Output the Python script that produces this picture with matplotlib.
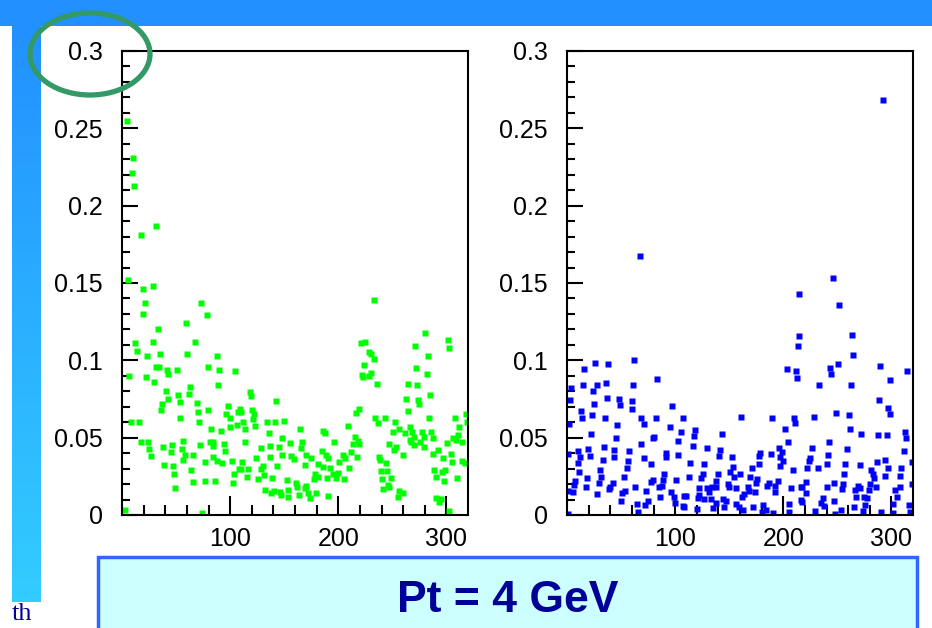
import numpy as np
import matplotlib
matplotlib.use('Agg')
from matplotlib import pyplot as plt
from matplotlib.patches import Rectangle, Ellipse
from matplotlib.colors import LinearSegmentedColormap
from matplotlib.ticker import FixedLocator, FuncFormatter

## scatter values (x, y)
green_pts = [
    (4.3, .255), (9.9, .231), (9, .221), (10.8, .213), (31.7, .187), (17.9, .181), (5.9, .152), (19, .146),
    (28.4, .148), (21.3, .137), (19.7, .130), (72.7, .137), (78.3, .129), (59.2, .124), (33, .120), (29, .112),
    (67.5, .112), (12, .111), (13.6, .106), (22.8, .103), (35.1, .104), (60.4, .104), (88.2, .103), (31.4, .096),
    (34.5, .096), (41.3, .094), (42.9, .091), (50.6, .0935), (79.8, .096), (90, .094), (104.8, .093), (6.8, .090),
    (22.2, .089), (29.6, .086), (62.9, .083), (88.8, .084), (40.4, .080), (52.1, .0775), (62.3, .078), (42.9, .075),
    (53.6, .073), (69, .0725), (36.7, .0716), (35.8, .068), (70, .0667), (79.2, .068), (98.3, .0703), (96.2, .0656),
    (99.9, .0624), (107.6, .0667), (106, .0585), (53.6, .0624), (8.3, .0602), (15.7, .0602), (70.9, .0602), (82, .0555),
    (91.2, .0544), (99.9, .057), (17.3, .0473), (24.4, .0473), (25.3, .0426), (26.8, .0383), (38.2, .0441), (45.9, .0452),
    (45, .0409), (56.7, .048), (55.2, .0424), (58.3, .0387), (56.7, .0355), (65.4, .0387), (72.1, .0452), (81.4, .0473),
    (84.5, .0473), (83.8, .0445), (94.3, .0458), (95.6, .0415), (84.5, .0376), (87.5, .0348), (92.5, .0333), (76.8, .0344),
    (101.4, .0348), (39.2, .0323), (46.9, .0316), (63.5, .029), (48.1, .0262), (103.6, .0262), (66, .0211), (76.8, .0219),
    (86.3, .0219), (102.3, .0204), (49, .0172), (2.5, .003), (74.3, .0015), (108.5, .030),
    (118.7, .0796), (119.6, .077), (142.7, .0735), (108.8, .0688), (109.8, .0667), (111.9, .0602), (120.2, .0677), (121.8, .065),
    (121.2, .062), (113.5, .0559), (122.7, .0576), (134.4, .0602), (141.2, .0602), (149.8, .0609), (135.7, .0533), (164.3, .0559),
    (185.9, .0544), (187.4, .0527), (209, .0576), (216.7, .0662), (114, .0473), (148.3, .0499), (155.7, .0467), (166.5, .0473),
    (196.1, .0473), (215.2, .0505), (128.9, .0434), (137.2, .0445), (145.2, .0437), (165.9, .0434), (213.6, .0462), (212.1, .0409),
    (185, .0415), (189, .0391), (190.5, .037), (136.6, .0376), (148.3, .0387), (156.6, .0383), (159.1, .0361), (170.5, .0387),
    (175.1, .037), (181.3, .0327), (185.9, .0312), (192.1, .0305), (200.4, .0344), (204.4, .0387), (206.6, .037), (124.3, .0366),
    (111, .0344), (130.4, .0318), (128.3, .0297), (143.7, .0316), (168.9, .0323), (110.4, .0297), (116.5, .0297), (115.9, .0247),
    (125.8, .0232), (131.3, .0258), (139.1, .0237), (152.9, .0226), (178.2, .0262), (181.3, .0247), (177.6, .0232), (189.9, .0237),
    (195.2, .0262), (198.2, .0241), (199.8, .0269), (205.3, .0232), (209.6, .0301), (161.2, .0204), (162.2, .0183), (168.9, .0172),
    (170.5, .0189), (132.6, .0161), (138.1, .014), (140.6, .0155), (145.8, .0151), (146.8, .0129), (153.5, .0161), (153.5, .0118),
    (163.7, .0129), (172, .014), (173.6, .0112), (179.7, .014), (190.5, .0123),
    (232.7, .139), (280.5, .1176), (221, .111), (225, .112), (301.2, .1133), (302.1, .108), (271, .1092), (228.1, .1054),
    (230.3, .1039), (233.4, .101), (282.7, .1026), (224.1, .0972), (222, .0908), (222.6, .0892), (228.1, .0897), (230.3, .092),
    (271.9, .095), (281.8, .091), (235.5, .0845), (264.2, .085), (272.8, .0843), (284.8, .0774), (262.6, .0753), (273.4, .0742),
    (275, .072), (218.9, .0688), (264.2, .0673), (318.1, .0656), (234.3, .0624), (236.4, .0596), (243.2, .0624), (252.8, .0602),
    (284.2, .0628), (307.9, .0624), (319.1, .0602), (256.5, .0559), (250.3, .0538), (262, .0527), (266.3, .057), (268.2, .0538),
    (277.4, .0538), (285.8, .0538), (312, .057), (310.4, .052), (266.3, .0484), (270.3, .0505), (279.6, .0505), (287.3, .0495),
    (305.8, .0499), (308.9, .0484), (314.4, .0473), (217.9, .048), (218.9, .0462), (275.9, .0473), (246.6, .0456), (267.3, .0473),
    (270.3, .0452), (279, .0441), (300.2, .0467), (253.4, .0441), (251.9, .0419), (291.9, .0419), (287.3, .0394), (304.3, .0394),
    (260.2, .0387), (217.3, .0372), (237.4, .0376), (238.6, .0355), (244.1, .0333), (297.2, .0366), (305.2, .0344), (314.4, .0348),
    (317.5, .0333), (239.5, .0284), (245.1, .0284), (288.8, .029), (295.9, .028), (299, .029), (240.4, .0232), (248.8, .0237),
    (290.4, .0243), (298.1, .0219), (309.5, .0241), (245.7, .0194), (247.2, .0183), (241.7, .0168), (255.9, .0155), (259.6, .014),
    (254.9, .0118), (290.4, .0108), (292.9, .0086), (295, .0101), (302.7, .0026),
]

blue_pts = [
    (292.6, .268), (67.1, .1675), (245.8, .153),
    (62.2, .1), (25.8, .0985), (37.5, .0978), (16, .0946), (82.8, .0877), (3.7, .0822), (15.1, .0843),
    (27.4, .0843), (35.7, .0856), (23.7, .0802), (60.6, .0839), (2.8, .0746), (25.2, .072), (37.2, .0759), (48, .0748),
    (49, .0714), (60.3, .0738), (59.7, .0688), (97.2, .0703), (12.9, .0673), (23.4, .0649), (14.2, .0624), (35.1, .0624),
    (68.9, .063), (71.1, .0591), (82.2, .0624), (107.4, .0624), (2.2, .0591), (45.8, .0585), (95.1, .057), (105.8, .0538),
    (22.2, .0523), (80.6, .0505), (79.7, .0495), (44.9, .0495), (102.8, .048), (34.2, .0441), (43.7, .0419), (68.3, .0462),
    (57.5, .0415), (9.8, .0415), (19.7, .0424), (1.2, .0394), (12, .0376), (21.2, .0381), (43.7, .0376), (56.6, .0351),
    (71.1, .0366), (91.1, .0398), (92, .0376), (102.8, .0387), (9.8, .0338), (32.9, .0355), (77.5, .0329), (11.1, .028),
    (30.5, .029), (55.1, .0301), (89.8, .0262), (7.4, .0219), (18.2, .0241), (31.4, .0243), (29.5, .0209), (52.9, .0243),
    (77.5, .0211), (79.1, .0226), (88.9, .0226), (100.6, .0226), (6.8, .0194), (17.5, .0183), (39.7, .0178), (42.2, .0204),
    (62.8, .0178), (73.5, .0155), (85.2, .0178), (88, .0189), (96, .0151), (0.6, .0155), (5.8, .0151), (28, .0133),
    (39.1, .0166), (53.5, .0155), (51.1, .014), (49.8, .0092), (85.8, .0118), (98.8, .0118), (74.5, .0092), (72, .0065),
    (64.3, .0071), (65.8, .0017), (99.7, .0075), (107.4, .006), (108.3, .0125), (0.6, .0004),
    (214.8, .143), (214.2, .116), (213.9, .1092), (203.1, .0942), (211.7, .0929), (212.3, .0888), (161, .0634), (189.3, .0624),
    (209.6, .0628), (210.5, .0596), (201.9, .0559), (118.8, .0548), (117.9, .051), (143.4, .0523), (204, .0473), (116.3, .0445),
    (129.3, .043), (141.6, .0419), (196.3, .043), (198.8, .0409), (178.5, .0404), (188.6, .0394), (140.9, .0381), (152.6, .0376),
    (177.9, .0383), (196.9, .0376), (199.4, .0348), (113.9, .0338), (127.1, .0327), (153.3, .0312), (177.9, .0327), (171.1, .0305),
    (196.9, .0316), (208.6, .029), (151.1, .028), (125.6, .0262), (139.4, .0262), (160, .0262), (112.6, .0247), (124, .0241),
    (154.8, .0243), (169.6, .0247), (175.4, .0232), (137.9, .0222), (186.5, .0204), (194.8, .0219), (216.3, .0178), (129.3, .0176),
    (134.2, .0183), (137.9, .0183), (148.6, .0198), (150.2, .0178), (167.1, .0183), (174.8, .0204), (184.9, .0189), (192.6, .0189),
    (207.1, .0172), (122.5, .0172), (131.1, .0151), (121.9, .0129), (121, .0108), (110.2, .0125), (126.5, .0103), (164, .0133),
    (168.6, .0155), (174.2, .0151), (192.6, .0151), (156.3, .0172), (133.3, .0103), (144.6, .0103), (147.1, .009), (161.9, .0118),
    (108.6, .0054), (120, .0037), (135.4, .0047), (137.9, .0075), (145.6, .0049), (156.3, .0069), (158.8, .0054), (162.5, .0032),
    (171.7, .0049), (180.9, .0065), (180.3, .0022), (184, .0032), (190.8, .0011), (205.6, .0069), (204.9, .0017), (216.3, .0097),
    (251.4, .136), (263.7, .1161), (264.6, .1032), (250.5, .0978), (243.1, .0951), (244.3, .0914), (289.2, .0963), (314.5, .0929),
    (299.1, .0871), (232.9, .0843), (262.2, .0839), (288.9, .0746), (296.9, .0692), (298.5, .0656), (228.3, .0634), (249.2, .0662),
    (260.6, .0649), (261.5, .0559), (272, .0523), (287.4, .0516), (296, .0516), (312.9, .0538), (313.8, .0499), (242.2, .0473),
    (226.2, .0434), (241.5, .0387), (259.1, .0426), (311.4, .0415), (224.6, .0366), (223.7, .0348), (222.2, .0301), (232, .0305),
    (240, .0329), (257.5, .0329), (271.4, .0323), (286.8, .034), (294.5, .0355), (296.6, .0305), (319.1, .034), (309.2, .0301),
    (256, .0262), (281.2, .029), (283.1, .0262), (284.3, .0241), (293.8, .0252), (307.7, .0252), (221.5, .0211), (246.8, .0204),
    (255.4, .0198), (240.6, .0183), (254.5, .0166), (268.9, .0189), (270.8, .0172), (280.6, .0198), (286.2, .0183), (266.8, .0161),
    (307.7, .0183), (303.7, .0161), (319.1, .0198), (217.5, .0183), (220.6, .014), (279.1, .0161), (267.7, .0118), (274.5, .0118),
    (277.5, .0112), (305.2, .0118), (236.9, .0108), (234.5, .008), (246.8, .009), (216.9, .0086), (237.5, .006), (265.2, .0054),
    (276, .0065), (301.5, .0069), (316, .0065), (229.8, .0026), (253.5, .0032), (273.8, .0026), (290.8, .0017), (301.5, .0011),
    (317.5, .0017), (248.3, .0004),
]

y_ticks = [0, 0.05, 0.1, 0.15, 0.2, 0.25, 0.3]
x_ticks = [100, 200, 300]
caption = 'Pt = 4 GeV'

tick_font = ['Liberation Sans Narrow', 'Liberation Sans', 'DejaVu Sans']

W, H = 932, 628
fig = plt.figure(figsize=(W / 100, H / 100), dpi=100)
fig.patch.set_facecolor('white')

## slide decoration, drawn in pixel coordinates
bg = fig.add_axes([0, 0, 1, 1], zorder=-1)
bg.axis('off')
bg.add_patch(Rectangle((0, 0), W, 26, color='#2291FF', lw=0))
strip = LinearSegmentedColormap.from_list('strip', ['#2291FF', '#33CCFF'])
bg.imshow(np.linspace(0, 1, 100)[:, None], cmap=strip, aspect='auto',
          extent=[12, 41, 602, 26], interpolation='bilinear')
bg.add_patch(Rectangle((98, 557), 819, 90, fc='#CCFFFF', ec='#3366FF', lw=2.5))
bg.text(508, 600, caption, ha='center', va='center', fontsize=32, fontweight='bold',
        color='#000099', family=['Liberation Sans', 'DejaVu Sans'])
bg.text(12, 620, 'th', ha='left', va='baseline', fontsize=19, color='#000099',
        family=['Liberation Serif', 'DejaVu Serif'])
bg.set_xlim(0, W)
bg.set_ylim(H, 0)


def make_panel(left, pts, colour):
    ax = fig.add_axes([left / W, (H - 515) / H, 346 / W, 464 / H])
    ax.set_facecolor('white')
    x, y = np.array(pts).T
    ax.plot(x, y, 's', ms=3.9, color=colour, mec='none')
    ax.set_xlim(0, 320)
    ax.set_ylim(0, 0.3)
    ax.xaxis.set_major_locator(FixedLocator(x_ticks))
    ax.xaxis.set_minor_locator(FixedLocator([v for v in range(20, 320, 20) if v % 100]))
    ax.yaxis.set_major_locator(FixedLocator(y_ticks))
    ax.yaxis.set_minor_locator(FixedLocator([v / 100 for v in range(1, 30) if v % 5]))
    ax.yaxis.set_major_formatter(FuncFormatter(lambda v, p: f'{v:g}'))
    ax.tick_params(axis='x', which='major', direction='in', length=14, width=1.5, pad=9)
    ax.tick_params(axis='x', which='minor', direction='in', length=7, width=1.5)
    ax.tick_params(axis='y', which='major', direction='in', length=11.5, width=1.5, pad=14)
    ax.tick_params(axis='y', which='minor', direction='in', length=6, width=1.5)
    for lab in ax.get_xticklabels() + ax.get_yticklabels():
        lab.set_family(tick_font)
        lab.set_fontsize(18)
    for s in ax.spines.values():
        s.set_linewidth(1.5)
    return ax


make_panel(122, green_pts, '#00FF00')
make_panel(567, blue_pts, '#0000FF')

## green ring around the 0.3 label
top = fig.add_axes([0, 0, 1, 1], zorder=10)
top.set_xlim(0, W)
top.set_ylim(H, 0)
top.axis('off')
top.patch.set_alpha(0)
top.add_patch(Ellipse((90, 54), 120, 82, fill=False, ec='#339966', lw=3.8))

fig.savefig('out.png', dpi=100)
